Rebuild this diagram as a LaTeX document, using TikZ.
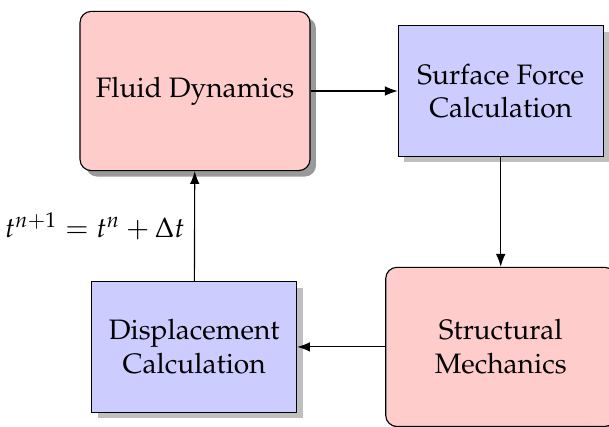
\documentclass[tikz,border=0pt]{standalone}
\usepackage[T1]{fontenc}
\usepackage{mathpazo}
\usetikzlibrary{arrows.meta,positioning,shadows}
\definecolor{SolverRed}{HTML}{FFCCCC}
\definecolor{CouplerBlue}{HTML}{CCCCFF}
\definecolor{ShadeDark}{HTML}{9A9A9A}
\definecolor{ShadeLight}{HTML}{BFBFBF}
\tikzset{
  solver/.style={
    rounded corners=4pt, draw=black, fill=SolverRed,
    minimum width=2.875cm, minimum height=1.99cm, align=center,
    drop shadow={shadow xshift=0.075cm, shadow yshift=-0.075cm,
      fill=ShadeDark, opacity=1}
  },
  coupler/.style={
    draw=black, fill=CouplerBlue,
    minimum width=2.56cm, minimum height=1.63cm, align=center,
    drop shadow={shadow xshift=0.075cm, shadow yshift=-0.075cm,
      fill=ShadeLight, opacity=1}
  },
  flow/.style={-{Latex[length=1.6mm,width=1.2mm]}, draw=black}
}

\begin{document}
\begin{tikzpicture}
        \useasboundingbox (-2.4375,1.1375) rectangle (5.175,-4.2);
        \node[solver] (fluid) {Fluid Dynamics};
        \node[coupler,right=1.09cm of fluid] (force) {Surface Force\\Calculation};
        \node[solver,below=1.375cm of force] (struct) {Structural\\Mechanics};
        \node[coupler,left=1.1cm of struct] (disp) {Displacement\\Calculation};
        \draw[flow] (fluid)--(force);
        \draw[flow] (force)--(struct);
        \draw[flow] (struct)--(disp);
        \draw[flow] (disp)--node[left]{$t^{n+1} = t^n + \Delta t$}(fluid);
      \end{tikzpicture}
\end{document}
